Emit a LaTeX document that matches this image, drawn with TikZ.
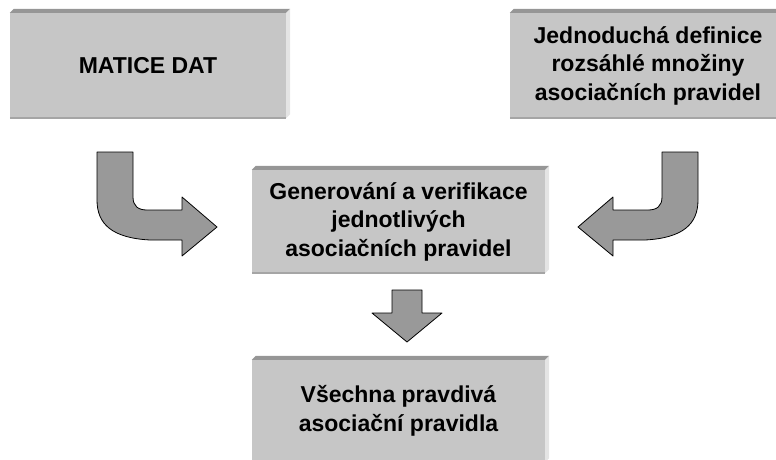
\documentclass[tikz,border=0pt]{standalone}
\usepackage{fontspec}
\setmainfont{Liberation Sans}
\definecolor{boxface}{RGB}{198,198,198}
\definecolor{boxtop}{RGB}{150,150,150}
\definecolor{boxside}{RGB}{228,228,228}
\definecolor{boxbot}{RGB}{165,165,165}
\definecolor{arrowgray}{RGB}{153,153,153}
\begin{document}
\begin{tikzpicture}[x=1pt,y=-1pt,font=\bfseries\fontsize{23}{28.5}\selectfont,
		blok/.style={rectangle,fill=boxface,inner sep=0pt,align=center},
		bevtop/.style={fill=boxtop},
		bevside/.style={fill=boxside},
		bevbot/.style={draw=boxbot,line width=1.5pt},
		sipka/.style={fill=arrowgray,draw=black,line width=0.8pt,line join=round}]
				\useasboundingbox (0,0) rectangle (776,459);
				\node[blok,minimum width=276pt,minimum height=105pt] (dat) at (148,65.5) {MATICE DAT};
				\node[blok,minimum width=276pt,minimum height=105pt] (def) at (648,65.5) {Jednoduchá definice\\rozsáhlé množiny\\asociačních pravidel};
				\node[blok,minimum width=293pt,minimum height=103pt] (gen) at (398.5,221.5) {Generování a verifikace\\jednotlivých\\asociačních pravidel};
				\node[blok,minimum width=293pt,minimum height=102pt] (vse) at (398.5,411) {Všechna pravdivá\\asociační pravidla};
				\foreach \b in {dat,def,gen,vse}{
					\fill[bevtop] (\b.north west) -- ([xshift=4pt,yshift=4pt]\b.north west) -- ([xshift=4pt,yshift=4pt]\b.north east) -- (\b.north east) -- cycle;
					\fill[bevside] (\b.north east) -- ([xshift=4pt,yshift=4pt]\b.north east) -- ([xshift=4pt,yshift=4pt]\b.south east) -- (\b.south east) -- cycle;
					\draw[bevbot] (\b.south west) -- (\b.south east);
				}
				% zahnute sipky
				\coordinate (hrotL) at (217,227);
				\coordinate (hrotP) at (578,227);
				\draw[sipka] (97,152) -- (133,152) -- (133,197) .. controls (133,206) and (138,210) .. (147,210) -- (182,210) -- (182,197) -- (hrotL) -- (182,256) -- (182,240) -- (150,240) .. controls (112,238) and (97,224) .. (97,200) -- cycle;
				\draw[sipka] (698,152) -- (662,152) -- (662,197) .. controls (662,206) and (657,210) .. (648,210) -- (613,210) -- (613,197) -- (hrotP) -- (613,256) -- (613,240) -- (645,240) .. controls (683,238) and (698,224) .. (698,200) -- cycle;
				% sipka dolu
				\coordinate (hrotD) at (407,342);
				\draw[sipka] (392,290) -- (422,290) -- (422,313) -- (442,313) -- (hrotD) -- (372,313) -- (392,313) -- cycle;
\end{tikzpicture}
\end{document}
